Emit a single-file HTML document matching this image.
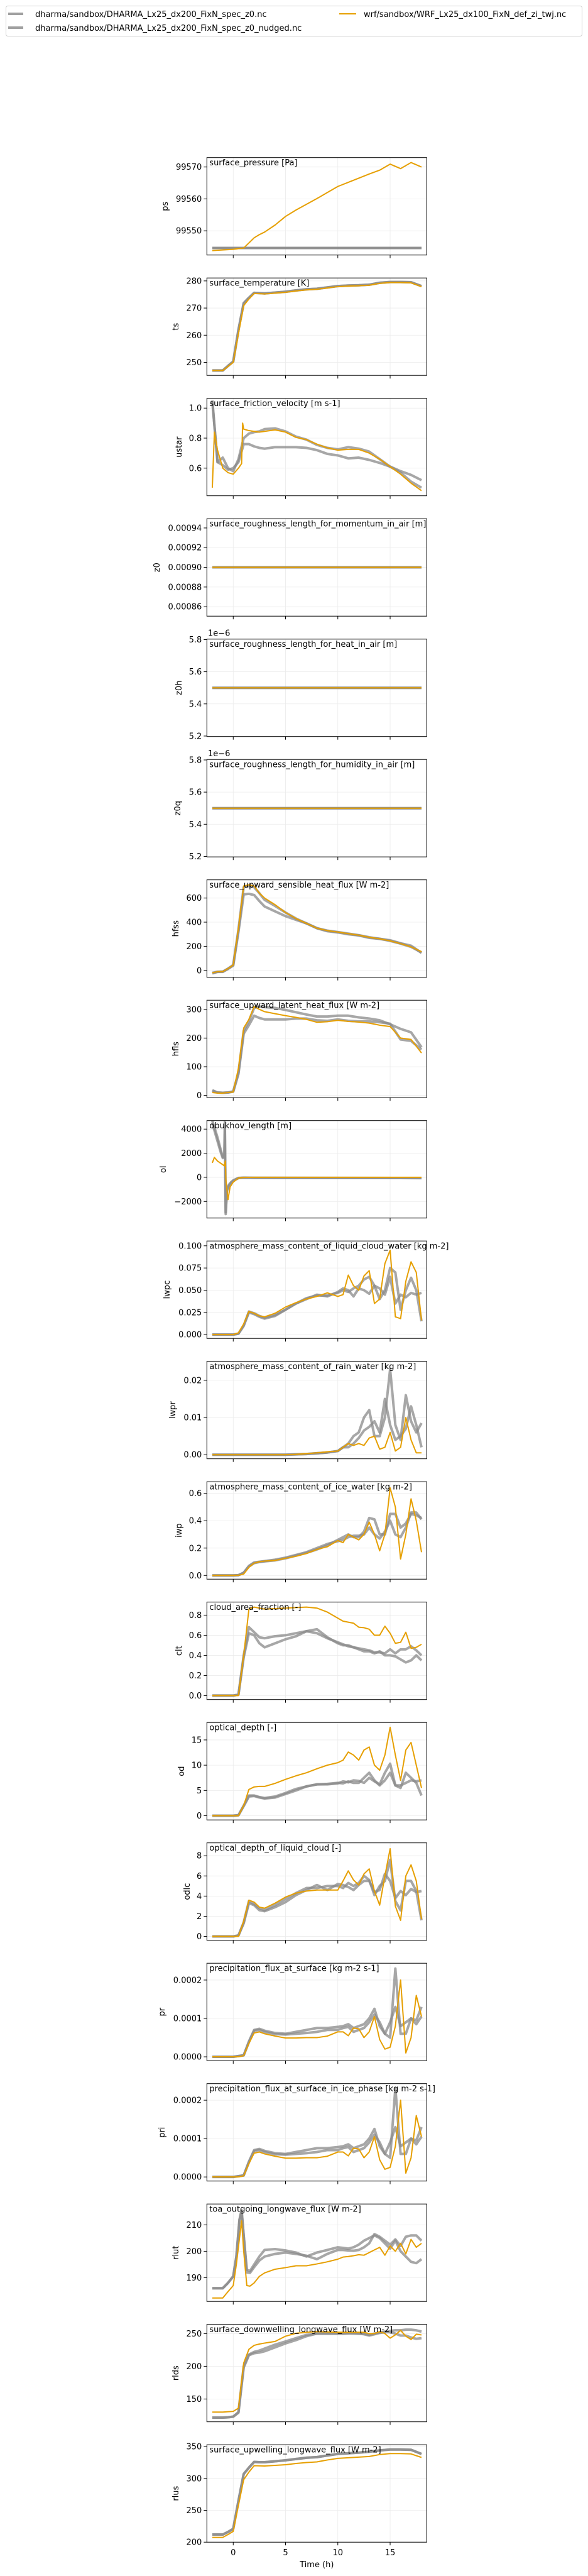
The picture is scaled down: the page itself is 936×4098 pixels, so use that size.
<!DOCTYPE html>
<html><head><meta charset="utf-8">
<style>
html,body{margin:0;padding:0;background:#fff;}
svg{display:block;font-family:"DejaVu Sans","Liberation Sans",sans-serif;}
</style></head>
<body>
<svg id="fig" width="936" height="4098" viewBox="0 0 936 4098" xmlns="http://www.w3.org/2000/svg">
  <g>
    <rect x="9.5" y="9.5" width="917" height="48" rx="3" fill="#fff" stroke="#d0d0d0"/>
    <g>
      <line x1="13" y1="22" x2="37" y2="22" stroke="#a0a0a0" stroke-width="4"/>
      <text x="56" y="27" font-size="13" fill="#000">dharma/sandbox/DHARMA_Lx25_dx200_FixN_spec_z0.nc</text>
    </g>
    <g>
      <line x1="13" y1="44" x2="37" y2="44" stroke="#a0a0a0" stroke-width="4"/>
      <text x="56" y="49" font-size="13" fill="#000">dharma/sandbox/DHARMA_Lx25_dx200_FixN_spec_z0_nudged.nc</text>
    </g>
    <g>
      <line x1="540" y1="22" x2="567" y2="22" stroke="#e69f00" stroke-width="2"/>
      <text x="579" y="27" font-size="13" fill="#000">wrf/sandbox/WRF_Lx25_dx100_FixN_def_zi_twj.nc</text>
    </g>
  </g>
  <g id="panels"></g>
</svg>
<script>
// ---- time grids (hours) ----
const TA = [-2,-1.5,-1,-0.5,0,0.5,1,1.5,2,2.5,3,4,5,6,7,8,9,10,11,12,13,14,15,16,17,18];
const TC = [-2,-1.5,-1,-0.5,0,0.5,1,1.5,2,2.5,3,4,5,6,7,8,9,10,10.5,11,11.5,12,12.5,13,13.5,14,14.5,15,15.5,16,16.5,17,17.5,18];
const TR = [-2,-1,-0.5,0,0.3,0.6,0.8,1,1.3,1.6,2,2.5,3,4,5,6,7,8,9,10,10.5,11,11.5,12,12.5,13,13.5,14,14.5,15,15.5,16,16.5,17,17.5,18];
const T2 = [-2,18];
const xTicks = [0,5,10,15];
const xTickLabels = ["0","5","10","15"];

const psG1 = [99544.6,99544.6,99544.6,99544.6,99544.6,99544.6,99544.6,99544.6,99544.6,99544.6,99544.6,99544.6,99544.6,99544.6,99544.6,99544.6,99544.6,99544.6,99544.6,99544.6,99544.6,99544.6,99544.6,99544.6,99544.6,99544.6];
const psG2 = psG1.slice();
const psO = [99543.8,99543.9,99544.0,99544.1,99544.2,99544.4,99544.6,99546.2,99547.8,99548.8,99549.6,99551.8,99554.5,99556.5,99558.3,99560.1,99562.0,99563.9,99565.2,99566.5,99567.8,99569.0,99570.9,99569.5,99571.4,99570.0];
const tsG1 = [247,247,247,248.7,250.3,262,271.8,273.8,275.6,275.5,275.4,275.7,276,276.5,276.9,277.1,277.6,278.1,278.3,278.4,278.6,279.3,279.6,279.6,279.5,278.1];
const tsG2 = tsG1.slice();
const tsO = [247,247,247,248.5,250,260.6,270.9,273.3,275.4,275.3,275.2,275.5,275.8,276.3,276.7,276.9,277.4,277.9,278.1,278.2,278.4,279.1,279.4,279.4,279.3,277.9];
const usG1 = [1.05,0.64,0.67,0.6,0.58,0.66,0.8,0.83,0.84,0.845,0.86,0.865,0.845,0.81,0.79,0.755,0.735,0.725,0.74,0.73,0.71,0.66,0.61,0.57,0.51,0.47];
const usG2 = [1.05,0.64,0.62,0.59,0.6,0.64,0.76,0.76,0.745,0.735,0.73,0.74,0.74,0.74,0.735,0.72,0.695,0.685,0.665,0.67,0.655,0.635,0.61,0.58,0.555,0.52];
const usOT = [-2,-1.8,-1.5,-1,-0.5,0,0.5,0.8,0.9,1,1.5,2,2.5,3,4,5,6,7,8,9,10,11,12,13,14,15,16,17,18];
const usO = [0.47,0.84,0.72,0.6,0.57,0.56,0.6,0.63,0.9,0.86,0.85,0.845,0.84,0.845,0.855,0.84,0.805,0.79,0.76,0.735,0.72,0.725,0.725,0.7,0.66,0.61,0.56,0.5,0.45];
const z0Vals = [0.0009,0.0009];
const z0hVals = [5.5,5.5];
const z0qVals = [5.5,5.5];
const hsG1 = [-20,-12,-10,15,45,340,690,700,690,640,585,535,480,430,390,350,330,318,305,292,275,262,245,222,195,150];
const hsG2 = [-25,-12,-12,12,40,320,630,635,625,575,530,490,450,420,390,350,325,315,300,290,270,262,250,225,205,145];
const hsO = [-20,-10,-10,15,45,350,700,710,700,640,600,545,480,430,390,350,330,318,305,292,275,262,245,222,195,155];
const hlG1 = [18,10,9,10,14,80,225,260,305,310,308,305,298,290,282,275,275,278,278,272,268,262,248,232,220,168];
const hlG2 = [16,10,9,10,13,75,215,245,278,270,265,265,265,268,268,262,260,265,260,258,258,255,250,195,190,160];
const hlO = [10,8,8,10,12,95,235,265,310,300,292,285,278,272,265,255,257,262,258,256,252,245,240,200,195,148];
const olGT = [-2,-1.5,-1.2,-1,-0.85,-0.8,-0.72,-0.6,-0.4,-0.2,0,0.5,1,2,18];
const olG1 = [4700,3300,2300,1700,1800,4600,-3050,-1000,-600,-400,-250,-50,-30,-40,-60];
const olG2 = [4500,3000,2100,1600,1700,4000,-2900,-1100,-700,-450,-300,-60,-30,-40,-60];
const olOT = [-2,-1.8,-1.5,-1,-0.85,-0.75,-0.7,-0.5,-0.3,0,0.5,1,2,18];
const olO = [1200,1650,1350,1050,950,1350,-200,-1850,-800,-400,-60,-10,0,0];
const lcG1 = [0,0,0,0,0,0.001,0.01,0.026,0.024,0.021,0.019,0.022,0.028,0.035,0.041,0.044,0.044,0.047,0.05,0.048,0.052,0.055,0.062,0.065,0.055,0.04,0.05,0.075,0.07,0.028,0.05,0.064,0.05,0.015];
const lcG2 = [0,0,0,0,0,0.001,0.01,0.025,0.023,0.02,0.018,0.021,0.028,0.035,0.04,0.045,0.043,0.048,0.052,0.05,0.043,0.052,0.05,0.046,0.055,0.052,0.045,0.065,0.035,0.045,0.042,0.047,0.045,0.047];
const lcO = [0,0,0,0,0,0.002,0.012,0.026,0.024,0.021,0.02,0.024,0.031,0.036,0.04,0.043,0.047,0.043,0.045,0.067,0.055,0.05,0.066,0.072,0.035,0.04,0.08,0.095,0.02,0.018,0.06,0.082,0.07,0.016];
const lrG1 = [0,0,0,0,0,0,0,0,0,0,0,0,0,0.0001,0.0002,0.0004,0.0006,0.001,0.002,0.003,0.005,0.006,0.01,0.012,0.005,0.005,0.01,0.023,0.008,0.004,0.016,0.009,0.006,0.0085];
const lrG2 = [0,0,0,0,0,0,0,0,0,0,0,0,0,0.0001,0.0002,0.0004,0.0006,0.001,0.002,0.002,0.003,0.0045,0.0065,0.0075,0.009,0.006,0.015,0.008,0.004,0.005,0.007,0.013,0.008,0.002];
const lrO = [0,0,0,0,0,0,0,0,0,0,0,0,0,0.0001,0.0003,0.0005,0.0008,0.001,0.002,0.003,0.0025,0.003,0.0025,0.0045,0.005,0.0015,0.002,0.006,0.001,0.002,0.01,0.004,0.0005,0.0005];
const iwG1 = [0,0,0,0,0,0.002,0.02,0.07,0.095,0.1,0.105,0.115,0.13,0.15,0.17,0.2,0.23,0.25,0.26,0.28,0.29,0.29,0.3,0.35,0.3,0.27,0.32,0.4,0.3,0.28,0.35,0.46,0.46,0.41];
const iwG2 = [0,0,0,0,0,0.002,0.02,0.065,0.09,0.098,0.103,0.11,0.125,0.145,0.165,0.19,0.22,0.26,0.28,0.3,0.28,0.28,0.32,0.42,0.41,0.3,0.3,0.45,0.45,0.35,0.38,0.45,0.44,0.42];
const iwO = [0,0,0,0,0,0.001,0.01,0.06,0.09,0.1,0.105,0.11,0.125,0.14,0.16,0.19,0.21,0.255,0.24,0.3,0.28,0.26,0.3,0.39,0.3,0.18,0.3,0.64,0.5,0.12,0.3,0.56,0.4,0.17];
const clG1 = [0,0,0,0,0,0.01,0.4,0.68,0.63,0.58,0.57,0.59,0.6,0.62,0.64,0.62,0.57,0.53,0.51,0.49,0.48,0.47,0.46,0.45,0.43,0.43,0.42,0.46,0.42,0.46,0.46,0.49,0.45,0.4];
const clG2 = [0,0,0,0,0,0.01,0.38,0.62,0.6,0.52,0.48,0.52,0.56,0.59,0.64,0.66,0.58,0.52,0.5,0.5,0.48,0.46,0.44,0.44,0.42,0.44,0.4,0.4,0.39,0.36,0.33,0.35,0.4,0.35];
const clO = [0,0,0,0,0,0,0.4,0.86,0.88,0.87,0.86,0.865,0.87,0.875,0.88,0.87,0.83,0.77,0.74,0.73,0.72,0.68,0.675,0.66,0.6,0.6,0.69,0.62,0.52,0.53,0.63,0.47,0.48,0.51];
const odG1 = [0,0,0,0,0,0.1,2,4,4,3.7,3.5,3.8,4.5,5.3,5.8,6.2,6.3,6.5,6.4,6.8,6.5,6.5,7.5,8.5,7,6,7,8.5,6,5.5,8.5,7.5,6.5,4];
const odG2 = [0,0,0,0,0,0.1,1.9,3.8,3.9,3.6,3.4,3.6,4.3,5,5.8,6.2,6.2,6.4,6.8,6.6,7,6.9,6.5,7.5,6.8,6.2,8.5,10.3,6,6,6.5,7,6.8,7];
const odO = [0,0,0,0,0,0,2,5.2,5.7,5.8,5.8,6.4,7.2,7.9,8.5,9.3,10,10.5,11,12.6,12,11,13,13.6,10,9,12,17.5,12,7,13,14.5,10,5.5];
const dlG1 = [0,0,0,0,0,0.1,1.4,3.5,3.2,2.8,2.6,3.1,3.7,4.3,4.8,4.8,5,5,4.8,5.3,5,5.3,6,5.6,4.1,5,5.5,7.6,3.5,2.6,5.5,5.5,4.5,1.6];
const dlG2 = [0,0,0,0,0,0.1,1.3,3.3,3.1,2.6,2.5,2.9,3.4,4.1,4.6,5.1,4.6,5.2,5.1,4.9,4.6,5.1,5.5,5.5,4.4,4.6,6.2,5.5,3.8,4.5,4.1,4.7,4.4,4.5];
const dlO = [0,0,0,0,0,0,1.5,3.6,3.4,2.9,2.8,3.3,3.9,4.3,4.5,4.6,4.6,4.6,5.5,6.5,5.6,5.1,6.2,6.7,4.5,3.1,6,8.7,3,1.6,6,7.1,5.5,1.7];
const prG1 = [0,0,0,0,0,0.000002,0.000004,0.00004,0.00007,0.000073,0.000068,0.000062,0.00006,0.000065,0.00007,0.000075,0.000075,0.000078,0.00008,0.000085,0.000075,0.00008,0.000085,0.0001,0.000125,0.00008,0.00006,0.00005,0.00023,0.00006,0.00006,0.0001,0.000095,0.00013];
const prG2 = [0,0,0,0,0,0.000002,0.000004,0.000038,0.000068,0.00007,0.000065,0.000059,0.000058,0.00006,0.000062,0.000065,0.00007,0.00007,0.000075,0.000078,0.000065,0.00007,0.000075,0.00009,0.00011,0.00009,0.00006,0.00009,0.00013,0.00008,0.00009,0.0001,0.000085,0.000105];
const prO = [0,0,0,0,0,0,0.000003,0.000035,0.000062,0.000065,0.00006,0.000054,0.000049,0.000049,0.00005,0.00005,0.000054,0.000065,0.000065,0.000055,0.000075,0.000073,0.00005,0.000065,0.000105,0.000045,0.00002,0.000025,0.00008,0.0002,0.00001,0.00005,0.00016,0.000105];
const piG1 = [0,0,0,0,0,0.000002,0.000004,0.00004,0.00007,0.000073,0.000068,0.000062,0.00006,0.000065,0.00007,0.000075,0.000075,0.000078,0.00008,0.000085,0.000075,0.00008,0.000085,0.0001,0.000125,0.00008,0.00006,0.00005,0.000232,0.00006,0.00006,0.0001,0.000095,0.00013];
const piG2 = [0,0,0,0,0,0.000002,0.000004,0.000038,0.000068,0.00007,0.000065,0.000059,0.000058,0.00006,0.000062,0.000065,0.00007,0.00007,0.000075,0.000078,0.000065,0.00007,0.000075,0.00009,0.00011,0.00009,0.00006,0.00009,0.00013,0.00008,0.00009,0.0001,0.000085,0.000105];
const piO = [0,0,0,0,0,0,0.000003,0.000035,0.000062,0.000065,0.00006,0.000054,0.000049,0.000049,0.00005,0.00005,0.000054,0.000065,0.000065,0.000055,0.000075,0.000073,0.00005,0.000065,0.000105,0.000045,0.00002,0.000025,0.00008,0.0002,0.00001,0.00005,0.00016,0.000105];
const rtG1 = [186,186,188,190.5,198,212,215.5,206,193,192.5,195,198,200.5,200.8,200.3,199.5,198,199.5,200.5,201.5,201.3,201,201.5,202.5,204,205,206,205,203,201,204,200,198,196,195.5,197];
const rtG2 = [186,186,188,190.5,198,212,215.5,206,192,191.8,194,196.5,198,199,199.5,199,198.3,197,199,200.5,200.5,200.3,200.2,200.5,201.5,203,206.5,205.5,204,202.5,204.5,202,205.5,206,206,204];
const rtO = [182.3,182.3,184.7,187,195,205,211.5,200,187,186.8,188,190.5,191.8,193.2,193.8,194.5,194.5,195.2,196,197,197.8,198,198.3,198.7,198.5,199.5,200.5,201.5,198.5,202,200,203,199,204.5,201.5,203];
const rdG1 = [121.5,121.5,121.5,122,123,130,200,218,222,224,227,233,238,243,248,250,250,250,250,250.5,251,250,250,248,250,252,253,252,250,247,247,244,242,243];
const rdG2 = [121.5,121.5,121.5,122,123,129,198,217,220,221,223,229,235,240,246,250,250,250,250,250.5,250,250,249,247,249,251,252,254,255,255,256,256,255,253];
const rdO = [130,130,130,130.5,131,136,205,226,232,234,235.5,238,246,250.5,252,253,252.5,252,252,252,252,252,252,250,250,253,250,243,248,255,246,241,249,248];
const ruG1 = [212,212,212,216,221,265,307,317,326,325.5,325.5,327,328.5,330.5,332.5,333.5,336,338.5,339.5,340.5,342,344,345.5,345.5,345,338.5];
const ruG2 = ruG1.slice();
const ruO = [207.5,207.5,207.5,212,217,258,298,310,320,319.8,319.5,320.5,321.5,323.5,325,326,329,331.5,332.5,333.5,334.5,337.5,339,339,338.5,333];

const panelTitles = ["surface_pressure [Pa]","surface_temperature [K]","surface_friction_velocity [m s-1]","surface_roughness_length_for_momentum_in_air [m]","surface_roughness_length_for_heat_in_air [m]","surface_roughness_length_for_humidity_in_air [m]","surface_upward_sensible_heat_flux [W m-2]","surface_upward_latent_heat_flux [W m-2]","obukhov_length [m]","atmosphere_mass_content_of_liquid_cloud_water [kg m-2]","atmosphere_mass_content_of_rain_water [kg m-2]","atmosphere_mass_content_of_ice_water [kg m-2]","cloud_area_fraction [-]","optical_depth [-]","optical_depth_of_liquid_cloud [-]","precipitation_flux_at_surface [kg m-2 s-1]","precipitation_flux_at_surface_in_ice_phase [kg m-2 s-1]","toa_outgoing_longwave_flux [W m-2]","surface_downwelling_longwave_flux [W m-2]","surface_upwelling_longwave_flux [W m-2]"];
const panelYLabels = ["ps","ts","ustar","z0","z0h","z0q","hfss","hfls","ol","lwpc","lwpr","iwp","clt","od","odlc","pr","pri","rlut","rlds","rlus"];
const panelYMin = [99542.4,245.2,0.416,0.0008504,5.197,5.197,-57,-7.9,-3378,-0.0043,-0.00109,-0.0272,-0.0393,-0.83,-0.383,-0.0000101,-0.0000107,181.0,115.1,200];
const panelYMax = [99572.95,281.08,1.065,0.0009494,5.803,5.803,751,331.9,4706,0.1054,0.0251,0.685,0.9295,18.45,9.277,0.0002438,0.0002433,217.9,264.1,352.9];
const panelYTicks = [[99550,99560,99570],[250,260,270,280],[0.6,0.8,1.0],[0.00086,0.00088,0.0009,0.00092,0.00094],[5.2,5.4,5.6,5.8],[5.2,5.4,5.6,5.8],[0,200,400,600],[0,100,200,300],[-2000,0,2000,4000],[0,0.025,0.05,0.075,0.1],[0,0.01,0.02],[0,0.2,0.4,0.6],[0,0.2,0.4,0.6,0.8],[0,5,10,15],[0,2,4,6,8],[0,0.0001,0.0002],[0,0.0001,0.0002],[190,200,210],[150,200,250],[200,250,300,350]];
const panelYTickLabels = [["99550","99560","99570"],["250","260","270","280"],["0.6","0.8","1.0"],["0.00086","0.00088","0.00090","0.00092","0.00094"],["5.2","5.4","5.6","5.8"],["5.2","5.4","5.6","5.8"],["0","200","400","600"],["0","100","200","300"],["\u22122000","0","2000","4000"],["0.000","0.025","0.050","0.075","0.100"],["0.00","0.01","0.02"],["0.0","0.2","0.4","0.6"],["0.0","0.2","0.4","0.6","0.8"],["0","5","10","15"],["0","2","4","6","8"],["0.0000","0.0001","0.0002"],["0.0000","0.0001","0.0002"],["190","200","210"],["150","200","250"],["200","250","300","350"]];
const panelOffsetText = ["","","","","1e\u22126","1e\u22126","","","","","","","","","","","","","",""];
const panelYLabelX = [263,280,285,250,285,283,280,280,260,266,275,285,285,289,298,258,258,280,280,280];
const panelSeries = [
 [[TA,psG1],[TA,psG2],[TA,psO]],
 [[TA,tsG1],[TA,tsG2],[TA,tsO]],
 [[TA,usG1],[TA,usG2],[usOT,usO]],
 [[T2,z0Vals],[T2,z0Vals],[T2,z0Vals]],
 [[T2,z0hVals],[T2,z0hVals],[T2,z0hVals]],
 [[T2,z0qVals],[T2,z0qVals],[T2,z0qVals]],
 [[TA,hsG1],[TA,hsG2],[TA,hsO]],
 [[TA,hlG1],[TA,hlG2],[TA,hlO]],
 [[olGT,olG1],[olGT,olG2],[olOT,olO]],
 [[TC,lcG1],[TC,lcG2],[TC,lcO]],
 [[TC,lrG1],[TC,lrG2],[TC,lrO]],
 [[TC,iwG1],[TC,iwG2],[TC,iwO]],
 [[TC,clG1],[TC,clG2],[TC,clO]],
 [[TC,odG1],[TC,odG2],[TC,odO]],
 [[TC,dlG1],[TC,dlG2],[TC,dlO]],
 [[TC,prG1],[TC,prG2],[TC,prO]],
 [[TC,piG1],[TC,piG2],[TC,piO]],
 [[TR,rtG1],[TR,rtG2],[TR,rtO]],
 [[TC,rdG1],[TC,rdG2],[TC,rdO]],
 [[TA,ruG1],[TA,ruG2],[TA,ruO]]
];

const AX_L = 329.3, AX_R = 679.3, AX_H = 155, TOP0 = 250.7, PITCH = 191.5;
const X_MIN = -2.52, X_MAX = 18.5;
const NS = "http://www.w3.org/2000/svg";
function xScale(t){ return AX_L + (t - X_MIN) / (X_MAX - X_MIN) * (AX_R - AX_L); }
function mk(tag, attrs, parent){
  const el = document.createElementNS(NS, tag);
  for (const k in attrs) el.setAttribute(k, attrs[k]);
  if (parent) parent.appendChild(el);
  return el;
}
const root = document.getElementById("panels");
const seriesNames = ["dharma-spec-z0","dharma-spec-z0-nudged","wrf"];
const seriesStyle = [
  {stroke:"#8a8a8a", w:4, op:0.75},
  {stroke:"#8a8a8a", w:4, op:0.75},
  {stroke:"#e69f00", w:2, op:1}
];

for (let p = 0; p < panelTitles.length; p++){
  const top = TOP0 + p * PITCH, bot = top + AX_H;
  const ymin = panelYMin[p], ymax = panelYMax[p];
  const yScale = v => bot - (v - ymin) / (ymax - ymin) * AX_H;
  const g = mk("g", {}, root);
  
  

  const cp = mk("clipPath", {id: "clip" + p}, g);
  mk("rect", {x: AX_L, y: top, width: AX_R - AX_L, height: AX_H}, cp);

  const grid = mk("g", {stroke: "#ebebeb", "stroke-width": 0.8}, g);
  
  
  xTicks.forEach(t => mk("line", {x1: xScale(t), x2: xScale(t), y1: top, y2: bot}, grid));
  panelYTicks[p].forEach(v => mk("line", {x1: AX_L, x2: AX_R, y1: yScale(v), y2: yScale(v)}, grid));

  const lines = mk("g", {"clip-path": "url(#clip" + p + ")", fill: "none", "stroke-linejoin": "round", "stroke-linecap": "butt"}, g);
  panelSeries[p].forEach((s, si) => {
    const ts = s[0], vs = s[1];
    let d = "";
    for (let i = 0; i < ts.length; i++){
      d += (i ? "L" : "M") + xScale(ts[i]).toFixed(2) + "," + yScale(vs[i]).toFixed(2);
    }
    const st = seriesStyle[si];
    const path = mk("path", {d: d, stroke: st.stroke, "stroke-width": st.w, "stroke-opacity": st.op}, lines);
    
    
  });

  const frame = mk("rect", {x: AX_L, y: top, width: AX_R - AX_L, height: AX_H, fill: "none", stroke: "#000", "stroke-width": 1}, g);
  
  

  const xt = mk("g", {stroke: "#000", "stroke-width": 1}, g);
  
  
  xTicks.forEach(t => mk("line", {x1: xScale(t), x2: xScale(t), y1: bot, y2: bot + 5}, xt));

  const yt = mk("g", {}, g);
  
  
  panelYTicks[p].forEach((v, i) => {
    const y = yScale(v);
    mk("line", {x1: AX_L - 5, x2: AX_L, y1: y, y2: y, stroke: "#000", "stroke-width": 1}, yt);
    const tx = mk("text", {x: AX_L - 8, y: y + 4.5, "font-size": 13, "text-anchor": "end", fill: "#000"}, yt);
    tx.textContent = panelYTickLabels[p][i];
  });

  if (panelOffsetText[p]){
    const ot = mk("text", {x: 331, y: top - 5, "font-size": 13, fill: "#000"}, g);
    ot.textContent = panelOffsetText[p];
    
    
  }

  const yl = mk("text", {x: 0, y: 0, "font-size": 13, "text-anchor": "middle", fill: "#000",
    transform: "translate(" + (panelYLabelX[p] + 4) + "," + (top + AX_H / 2) + ") rotate(-90)"}, g);
  yl.textContent = panelYLabels[p];
  
  

  const ti = mk("text", {x: AX_L + 4, y: top + 12.5, "font-size": 13, fill: "#000"}, g);
  ti.textContent = panelTitles[p];
  
  

  if (p === panelTitles.length - 1){
    xTicks.forEach((t, i) => {
      const lx = mk("text", {x: xScale(t), y: bot + 21, "font-size": 13, "text-anchor": "middle", fill: "#000"}, g);
      lx.textContent = xTickLabels[i];
      
      
    });
    const xl = mk("text", {x: (AX_L + AX_R) / 2, y: bot + 40, "font-size": 13, "text-anchor": "middle", fill: "#000"}, g);
    xl.textContent = "Time (h)";
    
    
  }
}
</script>
</body></html>
